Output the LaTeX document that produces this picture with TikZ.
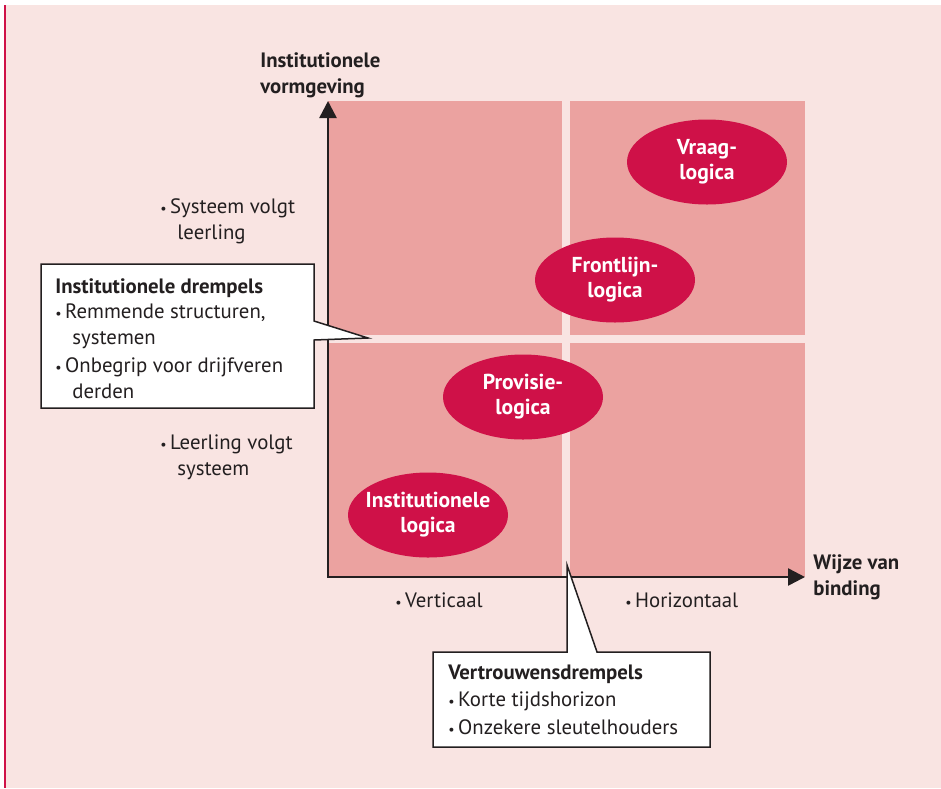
\documentclass[tikz,border=0pt]{standalone}
\usepackage{fontspec}
\setmainfont{PT Sans}
\usetikzlibrary{shapes.geometric,arrows.meta}

\definecolor{bgpink}{HTML}{F9E4E2}
\definecolor{quadpink}{HTML}{EBA2A0}
\definecolor{logicred}{HTML}{CF1148}
\definecolor{inkgray}{HTML}{231F20}

\newcommand{\bul}{{\scriptsize\textbullet}\,}
\newcommand{\ind}{\hspace*{8.5pt}}

\begin{document}
\begin{tikzpicture}[
        x=0.5pt, y=-0.5pt,
        every node/.style={font=\fontsize{10.4}{13}\selectfont, text=inkgray, inner sep=0pt},
        quad/.style={fill=quadpink, draw=none},
        logic/.style={ellipse, fill=logicred, minimum width=80pt, minimum height=42.5pt,
            inner xsep=-6pt, align=center, font=\fontsize{10.8}{12.5}\selectfont\bfseries, text=white},
        axisline/.style={draw=inkgray, line width=1.25pt, {Triangle[length=8.5pt,width=8.5pt]}-{Triangle[length=8.5pt,width=8.5pt]}},
        callout/.style={draw=inkgray, fill=white, line width=0.75pt},
        txt/.style={align=left, anchor=base west},
        boldtxt/.style={txt, font=\fontsize{10.4}{13}\selectfont\bfseries},
    ]
    \useasboundingbox (0,0) rectangle (941,788);
    % background and margin line
    \fill[white] (0,0) rectangle (941,788);
    \fill[bgpink] (6,5) rectangle (941,788);
    \fill[logicred] (4,5) rectangle (6,788);

    % quadrants
    \fill[quad] (328,101) rectangle (562,335);
    \fill[quad] (570,101) rectangle (805,335);
    \fill[quad] (328,343) rectangle (562,577);
    \fill[quad] (570,343) rectangle (805,577);

    % logics
    \node[logic](vraag) at (707,162){Vraag-\\logica};
    \node[logic](frontlijn) at (615,280){Frontlijn-\\logica};
    \node[logic](provisie) at (523,397){Provisie-\\logica};
    \node[logic](instlogica) at (428,515){Institutionele\\logica};

    % axes
    \coordinate (ytop) at (328,101);
    \coordinate (origin) at (328,577);
    \coordinate (xend) at (805,577);
    \draw[axisline] (ytop) -- (origin) -- (xend);

    % (base anchor sits on the last line)
    \node[boldtxt](ylabel) at (260,93){Institutionele\\vormgeving};
    \node[boldtxt](xlabel) at (813,595){Wijze van\\binding};
    \node[txt](yhigh) at (160,239){\bul Systeem volgt\\\ind leerling};
    \node[txt](ylow) at (160,475){\bul Leerling volgt\\\ind systeem};
    \node[txt](xleft) at (395,607){\bul Verticaal};
    \node[txt](xright) at (625,607){\bul Horizontaal};

    % callouts
    \draw[callout] (41,264) -- (314,264) -- (314,321) -- (368,338) -- (314,340)
        -- (314,408) -- (41,408) -- cycle;
    \node[boldtxt](instdrempel) at (55,293){Institutionele drempels};
    \node[txt](institems) at (55,398){\bul Remmende structuren,\\\ind systemen\\[1pt]
        \bul Onbegrip voor drijfveren\\\ind derden};

    \draw[callout] (433,652) -- (567,652) -- (567,565) -- (597,652) -- (710,652)
        -- (710,747) -- (433,747) -- cycle;
    \node[boldtxt](vertrdrempel) at (448,679){Vertrouwensdrempels};
    \node[txt](vertritems) at (448,734){\bul Korte tijdshorizon\\[1pt]\bul Onzekere sleutelhouders};
\end{tikzpicture}
\end{document}
